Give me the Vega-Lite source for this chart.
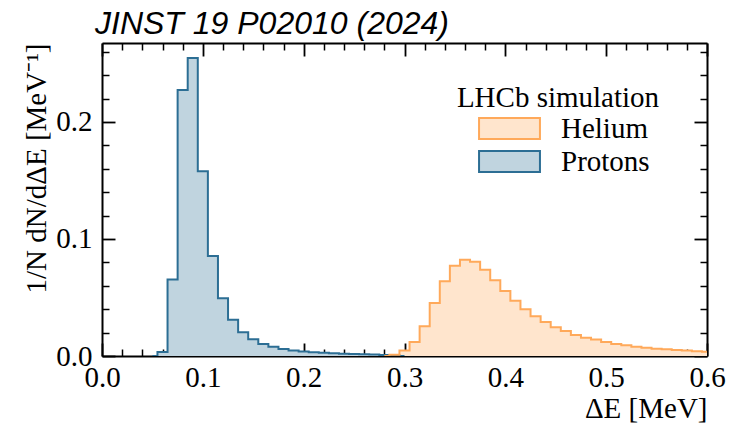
{
  "$schema": "https://vega.github.io/schema/vega-lite/v6.json",
  "width": 605,
  "height": 313,
  "autosize": "none",
  "padding": {"left": 102, "top": 43, "right": 22, "bottom": 68},
  "background": "white",
  "title": {
    "text": "JINST 19 P02010 (2024)",
    "font": "Liberation Sans",
    "fontStyle": "italic",
    "fontWeight": "normal",
    "fontSize": 32,
    "color": "black",
    "anchor": "start",
    "frame": "group",
    "baseline": "alphabetic",
    "dx": -7,
    "offset": -24
  },
  "config": {
    "view": {"stroke": null},
    "axis": {
      "grid": false,
      "domain": true,
      "domainColor": "black",
      "domainWidth": 2,
      "tickColor": "black",
      "labelFont": "Liberation Serif",
      "labelFontSize": 29,
      "labelColor": "black",
      "labelFlush": false,
      "titleFont": "Liberation Serif",
      "titleFontSize": 29,
      "titleFontWeight": "normal",
      "titleColor": "black",
      "zindex": 1
    },
    "legend": {
      "labelFont": "Liberation Serif",
      "labelFontSize": 29,
      "labelColor": "black",
      "titleFont": "Liberation Serif",
      "titleFontSize": 29,
      "titleFontWeight": "normal",
      "titleColor": "black",
      "titleLimit": 400,
      "labelLimit": 300
    }
  },
  "datasets": {
    "hist": [
      {"E": 0.05, "density": 0, "particle": "Protons"},
      {"E": 0.06, "density": 0.0035, "particle": "Protons"},
      {"E": 0.07, "density": 0.0654, "particle": "Protons"},
      {"E": 0.08, "density": 0.2274, "particle": "Protons"},
      {"E": 0.09, "density": 0.2546, "particle": "Protons"},
      {"E": 0.10, "density": 0.158, "particle": "Protons"},
      {"E": 0.11, "density": 0.0854, "particle": "Protons"},
      {"E": 0.12, "density": 0.0494, "particle": "Protons"},
      {"E": 0.13, "density": 0.0309, "particle": "Protons"},
      {"E": 0.14, "density": 0.0203, "particle": "Protons"},
      {"E": 0.15, "density": 0.0143, "particle": "Protons"},
      {"E": 0.16, "density": 0.0103, "particle": "Protons"},
      {"E": 0.17, "density": 0.0080, "particle": "Protons"},
      {"E": 0.18, "density": 0.0060, "particle": "Protons"},
      {"E": 0.19, "density": 0.0047, "particle": "Protons"},
      {"E": 0.20, "density": 0.0039, "particle": "Protons"},
      {"E": 0.21, "density": 0.0033, "particle": "Protons"},
      {"E": 0.22, "density": 0.0028, "particle": "Protons"},
      {"E": 0.23, "density": 0.0024, "particle": "Protons"},
      {"E": 0.24, "density": 0.0020, "particle": "Protons"},
      {"E": 0.25, "density": 0.0017, "particle": "Protons"},
      {"E": 0.26, "density": 0.0014, "particle": "Protons"},
      {"E": 0.27, "density": 0.0012, "particle": "Protons"},
      {"E": 0.28, "density": 0.0009, "particle": "Protons"},
      {"E": 0.29, "density": 0.0006, "particle": "Protons"},
      {"E": 0.30, "density": 0, "particle": "Protons"},
      {"E": 0.28, "density": 0, "particle": "Helium"},
      {"E": 0.29, "density": 0.0010, "particle": "Helium"},
      {"E": 0.30, "density": 0.0048, "particle": "Helium"},
      {"E": 0.31, "density": 0.0120, "particle": "Helium"},
      {"E": 0.32, "density": 0.0254, "particle": "Helium"},
      {"E": 0.33, "density": 0.0453, "particle": "Helium"},
      {"E": 0.34, "density": 0.0638, "particle": "Helium"},
      {"E": 0.35, "density": 0.0772, "particle": "Helium"},
      {"E": 0.36, "density": 0.0822, "particle": "Helium"},
      {"E": 0.37, "density": 0.0806, "particle": "Helium"},
      {"E": 0.38, "density": 0.0738, "particle": "Helium"},
      {"E": 0.39, "density": 0.0647, "particle": "Helium"},
      {"E": 0.40, "density": 0.0556, "particle": "Helium"},
      {"E": 0.41, "density": 0.0473, "particle": "Helium"},
      {"E": 0.42, "density": 0.0399, "particle": "Helium"},
      {"E": 0.43, "density": 0.0339, "particle": "Helium"},
      {"E": 0.44, "density": 0.0290, "particle": "Helium"},
      {"E": 0.45, "density": 0.0245, "particle": "Helium"},
      {"E": 0.46, "density": 0.0214, "particle": "Helium"},
      {"E": 0.47, "density": 0.0180, "particle": "Helium"},
      {"E": 0.48, "density": 0.0157, "particle": "Helium"},
      {"E": 0.49, "density": 0.0140, "particle": "Helium"},
      {"E": 0.50, "density": 0.0120, "particle": "Helium"},
      {"E": 0.51, "density": 0.0103, "particle": "Helium"},
      {"E": 0.52, "density": 0.0091, "particle": "Helium"},
      {"E": 0.53, "density": 0.0080, "particle": "Helium"},
      {"E": 0.54, "density": 0.0071, "particle": "Helium"},
      {"E": 0.55, "density": 0.0063, "particle": "Helium"},
      {"E": 0.56, "density": 0.0057, "particle": "Helium"},
      {"E": 0.57, "density": 0.0051, "particle": "Helium"},
      {"E": 0.58, "density": 0.0046, "particle": "Helium"},
      {"E": 0.59, "density": 0.0041, "particle": "Helium"},
      {"E": 0.60, "density": 0.0037, "particle": "Helium"},
      {"E": 0.61, "density": 0.0034, "particle": "Helium"}
    ]
  },
  "data": {"name": "hist"},
  "resolve": {
    "scale": {"x": "shared", "y": "shared"},
    "axis": {"x": "independent", "y": "independent"}
  },
  "layer": [
    {
      "mark": {"type": "area", "interpolate": "step", "clip": true, "opacity": 1},
      "encoding": {
        "x": {
          "field": "E", "type": "quantitative",
          "scale": {"domain": [0, 0.6], "nice": false, "zero": false},
          "axis": {
            "orient": "bottom", "title": "ΔE [MeV]",
            "values": [0, 0.1, 0.2, 0.3, 0.4, 0.5, 0.6], "format": ".1f",
            "tickSize": -13, "tickWidth": 1.8, "labelPadding": 20,
            "titleAnchor": "end", "titleAlign": "right", "titlePadding": 2
          }
        },
        "y": {
          "field": "density", "type": "quantitative", "stack": null,
          "scale": {"domain": [0, 0.2675], "nice": false},
          "axis": {
            "orient": "left", "title": "1/N dN/dΔE [MeV⁻¹]",
            "values": [0, 0.1, 0.2], "format": ".1f",
            "tickSize": -13, "tickWidth": 1.8, "labelPadding": 23,
            "titleAnchor": "end", "titleAlign": "right", "titlePadding": 4
          }
        },
        "fill": {
          "field": "particle", "type": "nominal",
          "scale": {"domain": ["Helium", "Protons"], "range": ["#ffe5cd", "#c0d4df"]},
          "legend": {
            "title": "LHCb simulation",
            "orient": "none", "legendX": 355, "legendY": 41,
            "titleAnchor": "middle", "titlePadding": 1,
            "symbolType": "M-2.9,-1H2.9V1H-2.9Z", "symbolSize": 441,
            "symbolStrokeWidth": 2, "symbolOpacity": 1, "symbolFillOpacity": 1,
            "symbolOffset": 29, "labelOffset": 37, "rowPadding": 3, "padding": 0
          }
        }
      }
    },
    {
      "mark": {"type": "line", "interpolate": "step", "clip": true, "strokeWidth": 2},
      "encoding": {
        "x": {
          "field": "E", "type": "quantitative",
          "scale": {"domain": [0, 0.6], "nice": false, "zero": false},
          "axis": {
            "orient": "bottom", "title": null, "labels": false, "domain": false,
            "values": [0.02, 0.04, 0.06, 0.08, 0.12, 0.14, 0.16, 0.18, 0.22, 0.24, 0.26, 0.28, 0.32, 0.34, 0.36, 0.38, 0.42, 0.44, 0.46, 0.48, 0.52, 0.54, 0.56, 0.58],
            "tickSize": -7, "tickWidth": 1.5
          }
        },
        "y": {
          "field": "density", "type": "quantitative",
          "scale": {"domain": [0, 0.2675], "nice": false},
          "axis": {
            "orient": "left", "title": null, "labels": false, "domain": false,
            "values": [0.02, 0.04, 0.06, 0.08, 0.12, 0.14, 0.16, 0.18, 0.22, 0.24, 0.26],
            "tickSize": -7, "tickWidth": 1.5
          }
        },
        "stroke": {
          "field": "particle", "type": "nominal",
          "scale": {"domain": ["Helium", "Protons"], "range": ["#ffa95a", "#2c6e94"]},
          "legend": {
            "title": "LHCb simulation",
            "orient": "none", "legendX": 355, "legendY": 41,
            "titleAnchor": "middle", "titlePadding": 1,
            "symbolType": "M-2.9,-1H2.9V1H-2.9Z", "symbolSize": 441,
            "symbolStrokeWidth": 2, "symbolOpacity": 1, "symbolFillOpacity": 1,
            "symbolOffset": 29, "labelOffset": 37, "rowPadding": 3, "padding": 0
          }
        }
      }
    },
    {
      "mark": {"type": "point", "opacity": 0},
      "encoding": {
        "x": {
          "field": "E", "type": "quantitative",
          "scale": {"domain": [0, 0.6], "nice": false, "zero": false},
          "axis": {
            "orient": "top", "title": null, "labels": false,
            "values": [0, 0.1, 0.2, 0.3, 0.4, 0.5, 0.6],
            "tickSize": -13, "tickWidth": 1.8
          }
        },
        "y": {
          "field": "density", "type": "quantitative",
          "scale": {"domain": [0, 0.2675], "nice": false},
          "axis": {
            "orient": "right", "title": null, "labels": false,
            "values": [0, 0.1, 0.2],
            "tickSize": -13, "tickWidth": 1.8
          }
        }
      }
    },
    {
      "mark": {"type": "point", "opacity": 0},
      "encoding": {
        "x": {
          "field": "E", "type": "quantitative",
          "scale": {"domain": [0, 0.6], "nice": false, "zero": false},
          "axis": {
            "orient": "top", "title": null, "labels": false, "domain": false,
            "values": [0.02, 0.04, 0.06, 0.08, 0.12, 0.14, 0.16, 0.18, 0.22, 0.24, 0.26, 0.28, 0.32, 0.34, 0.36, 0.38, 0.42, 0.44, 0.46, 0.48, 0.52, 0.54, 0.56, 0.58],
            "tickSize": -7, "tickWidth": 1.5
          }
        },
        "y": {
          "field": "density", "type": "quantitative",
          "scale": {"domain": [0, 0.2675], "nice": false},
          "axis": {
            "orient": "right", "title": null, "labels": false, "domain": false,
            "values": [0.02, 0.04, 0.06, 0.08, 0.12, 0.14, 0.16, 0.18, 0.22, 0.24, 0.26],
            "tickSize": -7, "tickWidth": 1.5
          }
        }
      }
    }
  ]
}
